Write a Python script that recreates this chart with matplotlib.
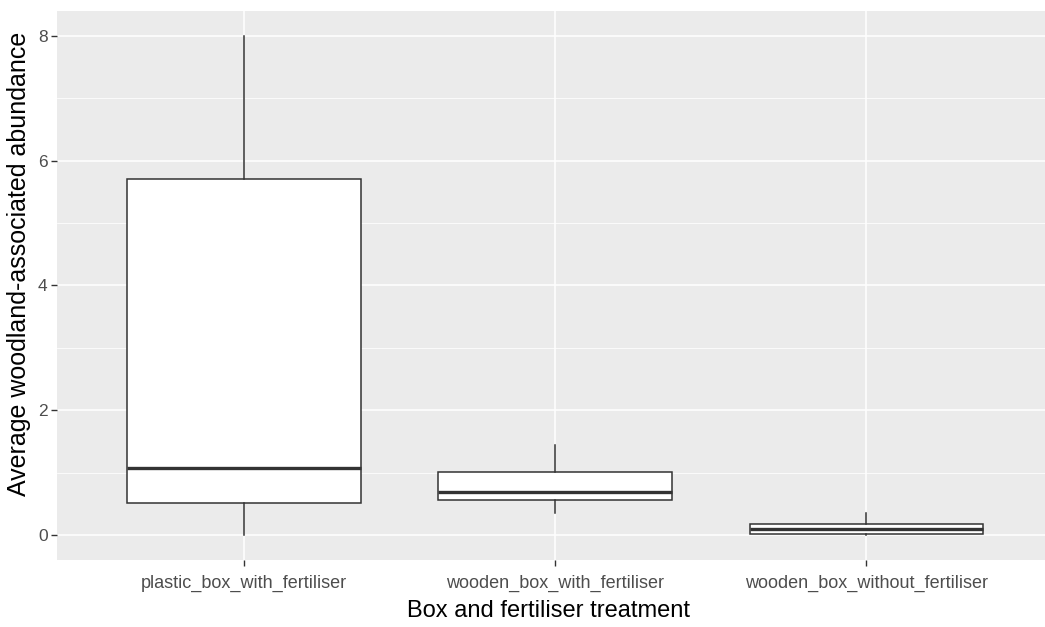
import matplotlib
matplotlib.use("Agg")
import matplotlib.pyplot as plt

# Treatment groups and their box summary statistics
categories = ["plastic_box_with_fertiliser",
              "wooden_box_with_fertiliser",
              "wooden_box_without_fertiliser"]
whisker_low = [0.0, 0.35, 0.0]
q1 = [0.51, 0.56, 0.02]
median = [1.07, 0.69, 0.10]
q3 = [5.70, 1.01, 0.18]
whisker_high = [8.0, 1.44, 0.35]

y_ticks = [0, 2, 4, 6, 8]

plt.rcParams["font.family"] = ["Liberation Sans", "DejaVu Sans"]

fig = plt.figure(figsize=(10.45, 6.27), dpi=100)
ax = fig.add_axes([0.0549, 0.1069, 0.9527, 0.8756])
ax.set_facecolor("#EBEBEB")

stats = []
for i, name in enumerate(categories):
    stats.append(dict(label=name, whislo=whisker_low[i], q1=q1[i], med=median[i],
                      q3=q3[i], whishi=whisker_high[i], fliers=[]))

edge = "#333333"
positions = list(range(1, len(categories) + 1))
ax.bxp(stats, positions=positions, widths=0.75, showcaps=False, patch_artist=True,
       boxprops=dict(facecolor="white", edgecolor=edge, linewidth=1.1),
       whiskerprops=dict(color=edge, linewidth=1.1),
       medianprops=dict(color=edge, linewidth=2.4, solid_capstyle="butt"),
       zorder=3)

# ggplot-like scales and grid
ax.set_xlim(0.4, 3.6)
ax.set_ylim(-0.4, 8.4)
ax.set_yticks(y_ticks)
ax.set_yticks([1, 3, 5, 7], minor=True)
ax.set_xticks(positions)
ax.set_xticklabels(categories)
ax.grid(which="major", color="white", linewidth=1.1, zorder=0)
ax.grid(which="minor", axis="y", color="white", linewidth=0.55, zorder=0)
ax.set_axisbelow(True)
for s in ax.spines.values():
    s.set_visible(False)

ax.tick_params(axis="both", which="major", color="#333333", length=4, width=1.0,
               labelcolor="#4D4D4D")
ax.tick_params(axis="x", labelsize=13, pad=7)
ax.tick_params(axis="y", labelsize=12.5, pad=3)
ax.tick_params(axis="y", which="minor", length=0)

ax.set_xlabel("Box and fertiliser treatment", fontsize=17, color="black")
ax.set_ylabel("Average woodland-associated abundance", fontsize=18, color="black")
ax.xaxis.set_label_coords(0.493, -0.072)
ax.yaxis.set_label_coords(-0.0265, 0.539)

fig.savefig("out.png", dpi=100)
